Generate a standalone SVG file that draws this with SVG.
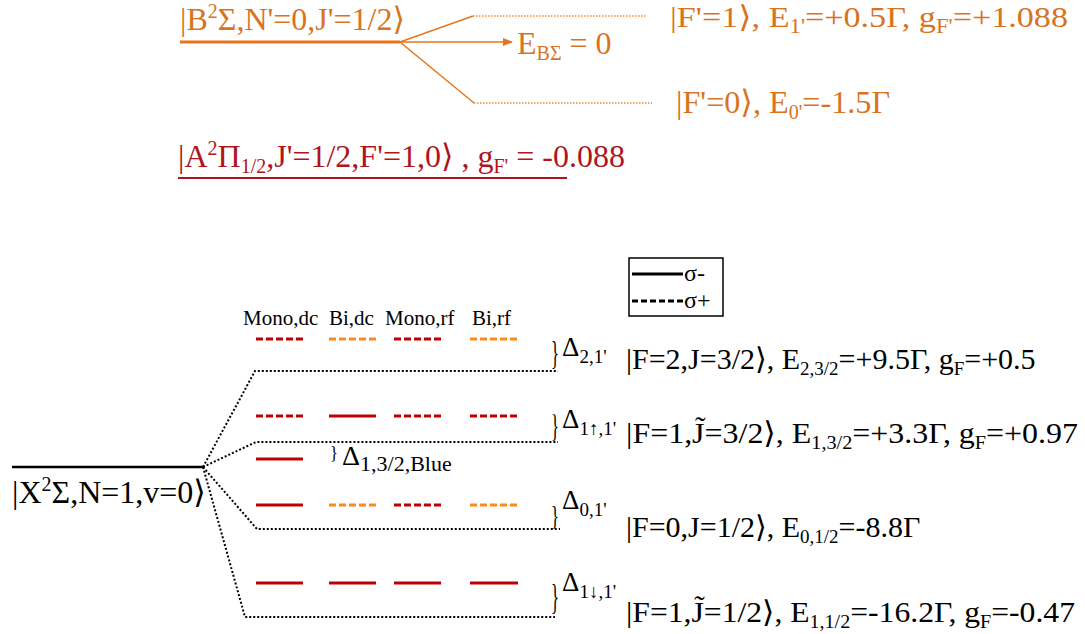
<svg xmlns="http://www.w3.org/2000/svg" width="1085" height="634" viewBox="0 0 1085 634">
<defs>
<style>
text{font-family:"Liberation Serif","Times New Roman","DejaVu Serif",serif;}
.or{fill:#D9731F;}
.dr{fill:#B0141C;}
.bk{fill:#000;}
.lbl{font-size:30px;}
.big{font-size:32px;}
.dl{font-size:27px;}
.sub{font-size:19px;}
.bsub{font-size:20px;}
.dsub{font-size:19px;}
.sup{font-size:20px;}
.col{font-size:21px;}
.dot{stroke:#000;stroke-width:2;stroke-dasharray:2 2;fill:none;}
.odot{stroke:#F08A30;stroke-width:1.5;stroke-dasharray:1.5 1.5;fill:none;}
.ol{stroke:#E8751A;fill:none;}
.rs{stroke:#C00000;stroke-width:3;}
.rd{stroke:#C00000;stroke-width:3;stroke-dasharray:7 3;}
.od{stroke:#FF8A1A;stroke-width:3;stroke-dasharray:7 3;}
.brace{font-size:28px;}
</style>
<marker id="arr" viewBox="0 0 10 10" refX="9" refY="5" markerWidth="10" markerHeight="10" markerUnits="userSpaceOnUse" orient="auto">
<path d="M0,1 L10,5 L0,9 z" fill="#E8751A"/>
</marker>
</defs>

<g id="B-state">
<line x1="180" y1="42" x2="400" y2="42" class="ol" stroke-width="3"/>
<text x="180" y="30" class="or big">|B<tspan dy="-12" class="sup">2</tspan><tspan dy="12">Σ,N'=0,J'=1/2⟩</tspan></text>
</g>

<g id="connectors-B">
<line x1="400" y1="42" x2="473" y2="16" class="ol" stroke-width="1.5"/>
<line x1="473" y1="16" x2="646" y2="16" class="odot"/>
<line x1="400" y1="42" x2="512" y2="42" class="ol" stroke-width="1.5" marker-end="url(#arr)"/>
<line x1="400" y1="42" x2="474" y2="103" class="ol" stroke-width="1.5"/>
<line x1="474" y1="103" x2="652" y2="103" class="odot"/>
</g>

<g id="EB">
<text x="517" y="54" class="or big">E<tspan dy="6" class="bsub">BΣ</tspan><tspan dy="-6"> = 0</tspan></text>
</g>

<g id="F1p">
<text x="670" y="27" class="or lbl" textLength="398" lengthAdjust="spacingAndGlyphs">|F'=1⟩, E<tspan dy="6" class="bsub">1'</tspan><tspan dy="-6">=+0.5Γ, g</tspan><tspan dy="6" class="bsub">F'</tspan><tspan dy="-6">=+1.088</tspan></text>
</g>

<g id="F0p">
<text x="676" y="113" class="or big" textLength="214" lengthAdjust="spacingAndGlyphs">|F'=0⟩, E<tspan dy="6" class="bsub">0'</tspan><tspan dy="-6">=-1.5Γ</tspan></text>
</g>

<g id="A-state">
<text x="178" y="167" class="dr big">|A<tspan dy="-12" class="sup">2</tspan><tspan dy="12">Π</tspan><tspan dy="6" class="bsub">1/2</tspan><tspan dy="-6">,J'=1/2,F'=1,0⟩ , g</tspan><tspan dy="6" class="bsub">F'</tspan><tspan dy="-6"> = -0.088</tspan></text>
<line x1="178" y1="178" x2="567" y2="178" stroke="#B0141C" stroke-width="2"/>
</g>

<g id="legend">
<rect x="629" y="258" width="94" height="58" fill="#fff" stroke="#000" stroke-width="1.5"/>
<line x1="632" y1="274" x2="683" y2="274" stroke="#000" stroke-width="3"/>
<line x1="632" y1="301" x2="683" y2="301" stroke="#000" stroke-width="3" stroke-dasharray="6 3"/>
<text x="684" y="281" class="bk" font-size="24">σ-</text>
<text x="684" y="308" class="bk" font-size="24">σ+</text>
</g>

<g id="column-labels">
<text x="243" y="325" class="bk col">Mono,dc</text>
<text x="329" y="325" class="bk col">Bi,dc</text>
<text x="385" y="325" class="bk col">Mono,rf</text>
<text x="472" y="325" class="bk col">Bi,rf</text>
</g>

<g id="X-state">
<line x1="12" y1="467" x2="203" y2="467" stroke="#000" stroke-width="2.5"/>
<text x="12" y="503" class="bk big">|X<tspan dy="-12" class="sup">2</tspan><tspan dy="12">Σ,N=1,v=0⟩</tspan></text>
</g>

<g id="connectors">
<polyline points="203,467 255,371 558,371" class="dot"/>
<polyline points="203,467 256,442 558,442" class="dot"/>
<polyline points="203,467 257,529 560,529" class="dot"/>
<polyline points="203,467 245,617 555,617" class="dot"/>
</g>

<g id="row-F2">
<line x1="256" y1="339" x2="303" y2="339" class="rd"/>
<line x1="329" y1="339" x2="376" y2="339" class="od"/>
<line x1="394" y1="339" x2="441" y2="339" class="rd"/>
<line x1="470" y1="339" x2="518" y2="339" class="od"/>
<text transform="translate(551 364) scale(0.6 1.2)" class="bk brace">}</text>
<text x="562" y="356" class="bk dl">Δ<tspan dy="7" class="dsub">2,1'</tspan></text>
<text x="626" y="369" class="bk lbl">|F=2,J=3/2⟩, E<tspan dy="6" class="sub">2,3/2</tspan><tspan dy="-6">=+9.5Γ, g</tspan><tspan dy="6" class="sub">F</tspan><tspan dy="-6">=+0.5</tspan></text>
</g>

<g id="row-F1-J32">
<line x1="256" y1="416" x2="303" y2="416" class="rd"/>
<line x1="329" y1="416" x2="376" y2="416" class="rs"/>
<line x1="394" y1="416" x2="441" y2="416" class="rd"/>
<line x1="470" y1="416" x2="518" y2="416" class="rd"/>
<text transform="translate(551 437) scale(0.6 1.1)" class="bk brace">}</text>
<text x="562" y="428" class="bk dl">Δ<tspan dy="7" class="dsub">1↑,1'</tspan></text>
<text x="626" y="443" class="bk lbl" textLength="452" lengthAdjust="spacingAndGlyphs">|F=1,J̃=3/2⟩, E<tspan dy="6" class="sub">1,3/2</tspan><tspan dy="-6">=+3.3Γ, g</tspan><tspan dy="6" class="sub">F</tspan><tspan dy="-6">=+0.97</tspan></text>
</g>

<g id="blue-line">
<line x1="256" y1="459" x2="303" y2="459" class="rs"/>
<text transform="translate(330 459) scale(0.6 0.7)" class="bk brace">}</text>
<text x="342" y="465" class="bk" font-size="28">Δ<tspan dy="6" font-size="22">1,3/2,Blue</tspan></text>
</g>

<g id="row-F0">
<line x1="256" y1="505" x2="303" y2="505" class="rs"/>
<line x1="329" y1="505" x2="376" y2="505" class="od"/>
<line x1="394" y1="505" x2="441" y2="505" class="rd"/>
<line x1="470" y1="505" x2="518" y2="505" class="od"/>
<text transform="translate(551 525) scale(0.6 1.0)" class="bk brace">}</text>
<text x="562" y="509" class="bk dl">Δ<tspan dy="7" class="dsub">0,1'</tspan></text>
<text x="626" y="537" class="bk lbl">|F=0,J=1/2⟩, E<tspan dy="6" class="sub">0,1/2</tspan><tspan dy="-6">=-8.8Γ</tspan></text>
</g>

<g id="row-F1-J12">
<line x1="256" y1="583" x2="303" y2="583" class="rs"/>
<line x1="329" y1="583" x2="376" y2="583" class="rs"/>
<line x1="394" y1="583" x2="441" y2="583" class="rs" stroke-width="3.5"/>
<line x1="470" y1="583" x2="518" y2="583" class="rs" stroke-width="3.5"/>
<text transform="translate(551 609) scale(0.6 1.25)" class="bk brace">}</text>
<text x="562" y="591" class="bk dl">Δ<tspan dy="7" class="dsub">1↓,1'</tspan></text>
<text x="626" y="622" class="bk lbl" textLength="449" lengthAdjust="spacingAndGlyphs">|F=1,J̃=1/2⟩, E<tspan dy="6" class="sub">1,1/2</tspan><tspan dy="-6">=-16.2Γ, g</tspan><tspan dy="6" class="sub">F</tspan><tspan dy="-6">=-0.47</tspan></text>
</g>
</svg>
